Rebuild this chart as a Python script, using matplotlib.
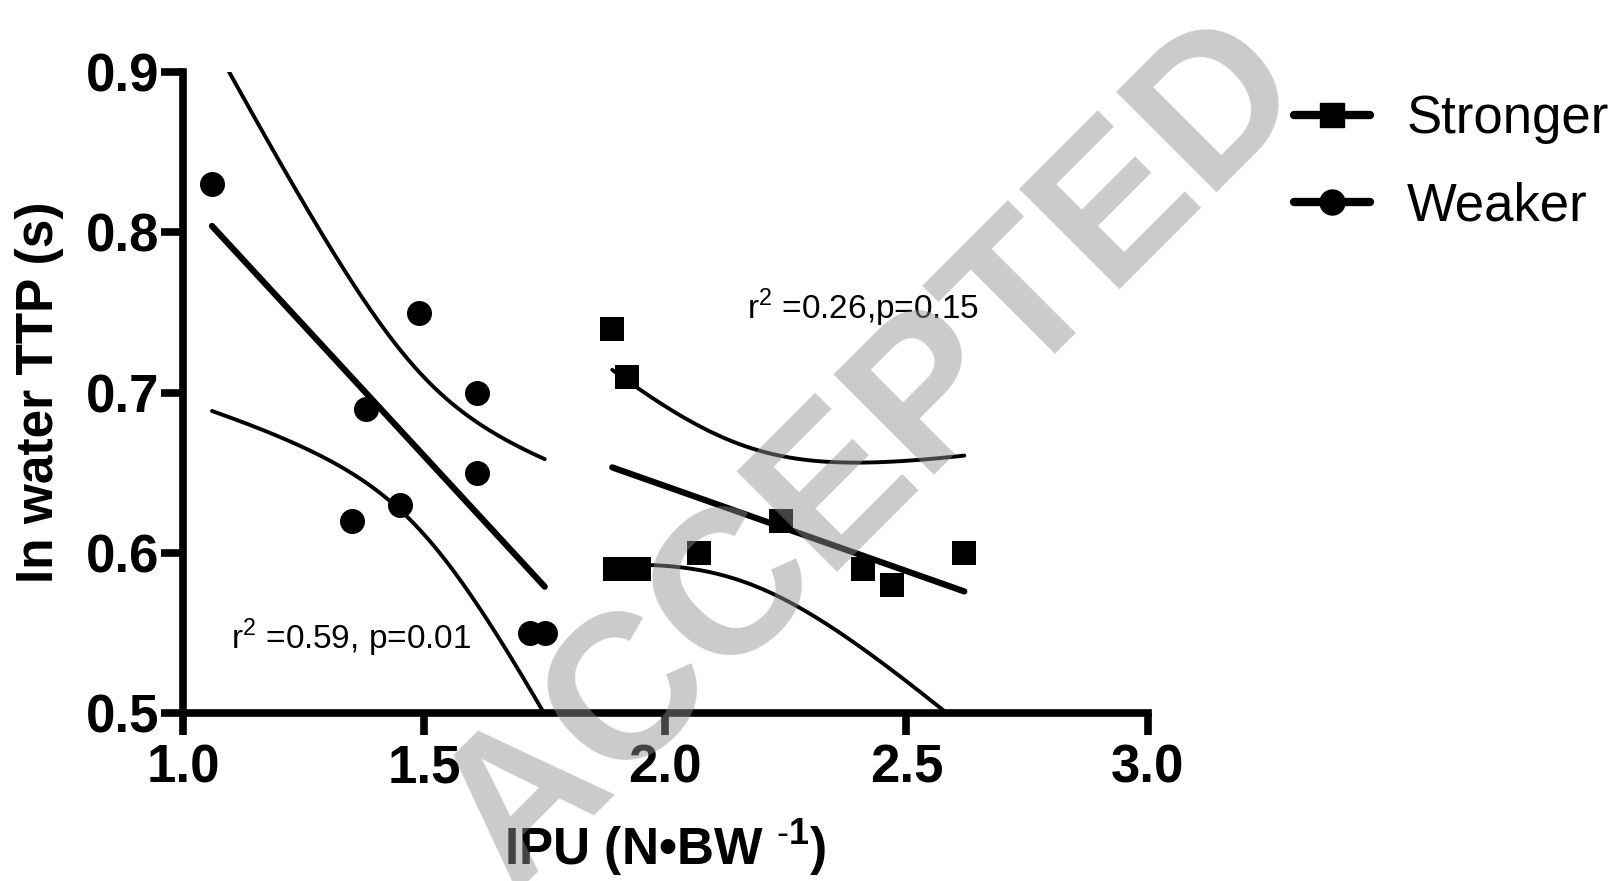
import matplotlib
matplotlib.use('Agg')
import matplotlib.pyplot as plt
from matplotlib.lines import Line2D
import numpy as np

plt.rcParams['font.family'] = ['Liberation Sans', 'DejaVu Sans']
plt.rcParams['mathtext.fontset'] = 'custom'
plt.rcParams['mathtext.rm'] = 'Liberation Sans'
plt.rcParams['mathtext.bf'] = 'Liberation Sans:bold'

# IPU (N/BW) vs in water TTP (s)
weak_x = [1.06, 1.35, 1.38, 1.45, 1.49, 1.61, 1.61, 1.72, 1.75]
weak_y = [0.83, 0.62, 0.69, 0.63, 0.75, 0.70, 0.65, 0.55, 0.55]
strong_x = [1.89, 1.92, 1.895, 1.945, 2.07, 2.24, 2.41, 2.47, 2.62]
strong_y = [0.74, 0.71, 0.59, 0.59, 0.60, 0.62, 0.59, 0.58, 0.60]

xticks = [1.0, 1.5, 2.0, 2.5, 3.0]
yticks = [0.5, 0.6, 0.7, 0.8, 0.9]

weak_note = r'r$^{2}$ =0.59, p=0.01'
strong_note = r'r$^{2}$ =0.26,p=0.15'

T975 = 2.365  # two sided 95% t value, df = 7


def fit_band(x, y):
    # linear fit plus 95% confidence band of the mean
    x = np.asarray(x)
    y = np.asarray(y)
    b, a = np.polyfit(x, y, 1)
    xs = np.linspace(x.min(), x.max(), 200)
    yhat = a + b * xs
    n = len(x)
    resid = y - (a + b * x)
    s = np.sqrt(np.sum(resid ** 2) / (n - 2))
    se = s * np.sqrt(1.0 / n + (xs - x.mean()) ** 2 / np.sum((x - x.mean()) ** 2))
    return xs, yhat, yhat - T975 * se, yhat + T975 * se


fig = plt.figure(figsize=(16.14, 8.81), dpi=100)
ax = fig.add_axes([0.1134, 0.1907, 0.5976, 0.7273])

for gx, gy, mk in [(weak_x, weak_y, 'o'), (strong_x, strong_y, 's')]:
    xs, yhat, lo, hi = fit_band(gx, gy)
    ax.plot(xs, yhat, color='k', lw=4.5, solid_capstyle='round', zorder=2)
    ax.plot(xs, lo, color='k', lw=2.8, solid_capstyle='round', zorder=2)
    ax.plot(xs, hi, color='k', lw=2.8, solid_capstyle='round', zorder=2)
    ax.plot(gx, gy, mk, color='k', ms=18 if mk == 'o' else 17, mew=0,
            zorder=3, clip_on=False)

ax.set_xlim(1.0, 3.0)
ax.set_ylim(0.5, 0.9)
ax.set_xticks(xticks, ['%.1f' % t for t in xticks])
ax.set_yticks(yticks, ['%.1f' % t for t in yticks])

for side in ['top', 'right']:
    ax.spines[side].set_visible(False)
for side in ['left', 'bottom']:
    ax.spines[side].set_linewidth(5.5)
    ax.spines[side].set_capstyle('projecting')

ax.tick_params(width=5.5, length=16, labelsize=38)
ax.tick_params(axis='y', pad=1)
ax.tick_params(axis='x', pad=6)
for lab in ax.get_xticklabels() + ax.get_yticklabels():
    lab.set_fontweight('bold')

ax.set_ylabel('In water TTP (s)', fontsize=37, fontweight='bold', labelpad=16)
ax.set_xlabel('IPU (N\u2022BW $^{\\text{-}\\mathbf{1}}$)', fontsize=37,
              fontweight='bold', labelpad=17)

ax.text(1.10, 0.540, weak_note, fontsize=24)
ax.text(2.17, 0.746, strong_note, fontsize=24)

handles = [
    Line2D([], [], color='k', lw=6, marker='s', ms=17, solid_capstyle='round'),
    Line2D([], [], color='k', lw=6, marker='o', ms=18, solid_capstyle='round'),
]
fig.legend(handles, ['Stronger', 'Weaker'], loc='upper left',
           bbox_to_anchor=(0.802, 0.893), frameon=False, fontsize=38,
           handlelength=1.44, handletextpad=0.68, labelspacing=0.7,
           borderpad=0, borderaxespad=0)

# watermark
fig.text(0.542, 0.484, 'ACCEPTED', rotation=45, rotation_mode='anchor',
         ha='center', va='center', fontsize=148, fontweight='bold',
         color=(0.57, 0.57, 0.57), alpha=0.47, zorder=10)

fig.savefig('out.png', dpi=100)
